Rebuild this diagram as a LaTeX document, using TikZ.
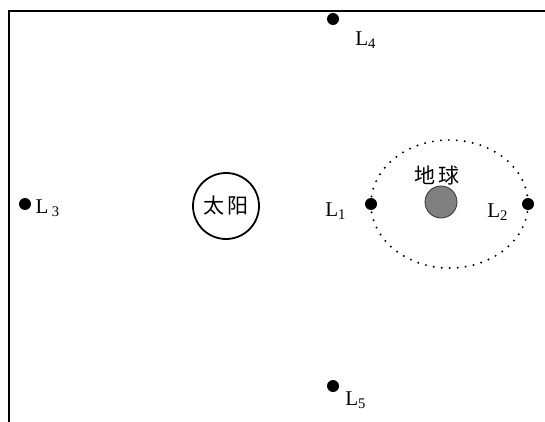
\documentclass[tikz,border=0pt]{standalone}
\usepackage{fontspec}
\setmainfont{Liberation Serif}
\newfontfamily\cjk{Noto Sans CJK SC}
\usepackage{tikz}
\usetikzlibrary{positioning, calc}

\tikzset{
    lpoint/.style={circle, fill=black, inner sep=0pt, minimum size=6pt},
    lname/.style={inner sep=0pt, font=\fontsize{10.5}{12}\selectfont},
    cjkname/.style={inner sep=0pt, font=\cjk\fontsize{10.5}{12}\selectfont}
}

\begin{document}
\begin{tikzpicture}[x=0.5pt, y=-0.5pt]
\useasboundingbox (0,0) rectangle (545,422);

% frame
\draw[line width=1pt] (9,422) -- (9,11) -- (545,11);

% sun and earth
\node[draw, circle, line width=0.9pt, minimum size=33pt, inner sep=0pt] (sun) at (226,206) {};
\node[cjkname] (sunlabel) at (sun) {太\hspace{1.5pt}阳};
\node[draw=black!80, circle, fill=black!50, line width=0.4pt, minimum size=16pt, inner sep=0pt] (earth) at (441,202) {};
\node[cjkname] (earthlabel) at (437,176) {地\hspace{1.5pt}球};

% orbit
\draw[line width=1.1pt, line cap=round, dash pattern=on 0pt off 4pt] (449.5,204) ellipse [x radius=78.5, y radius=64];

% Lagrange points
\node[lpoint] (L1) at (371,204) {};
\node[lpoint] (L2) at (528,204) {};
\node[lpoint] (L3) at (25,204) {};
\node[lpoint] (L4) at (333,19) {};
\node[lpoint] (L5) at (333,386) {};

\node[lname] (L1label) at (336,211) {L\textsubscript{1}};
\node[lname] (L2label) at (498,212) {L\textsubscript{2}};
\node[lname] (L3label) at (48,208) {L\,\textsubscript{3}};
\node[lname] (L4label) at (366,40) {L\textsubscript{4}};
\node[lname] (L5label) at (356,400) {L\textsubscript{5}};
\end{tikzpicture}
\end{document}
